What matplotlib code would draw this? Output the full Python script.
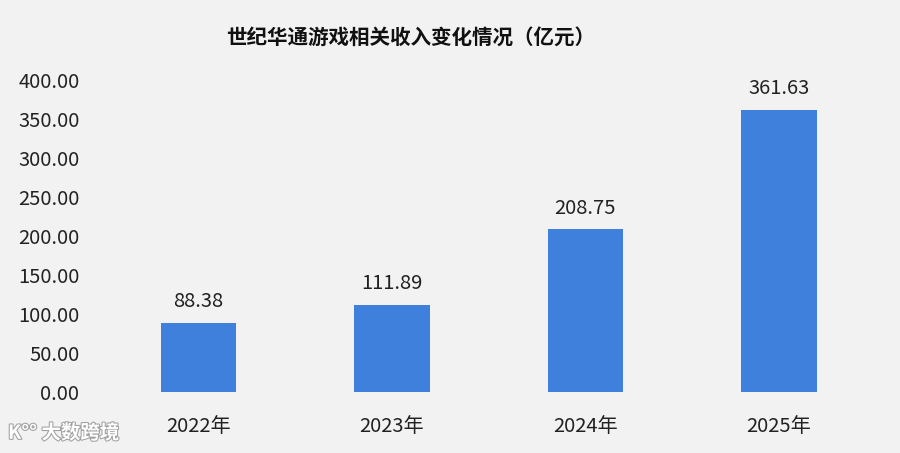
import numpy as np
import matplotlib
matplotlib.use("Agg")
import matplotlib.pyplot as plt
import matplotlib.patheffects as pe

plt.rcParams['font.family'] = ['Noto Sans CJK SC', 'DejaVu Sans']

# data
years = ['2022年', '2023年', '2024年', '2025年']
revenue = [88.38, 111.89, 208.75, 361.63]
yticks = [0, 50, 100, 150, 200, 250, 300, 350, 400]

bg = '#F2F2F2'
bar_color = '#4080DD'
text_color = '#222222'

fig = plt.figure(figsize=(9, 4.53), dpi=100, facecolor=bg)
ax = fig.add_axes([0.113, 0.1347, 0.86, 0.6887], facecolor=bg)

x = np.arange(len(years))
bars = ax.bar(x, revenue, width=0.39, color=bar_color)

for xi, v in zip(x, revenue):
    ax.text(xi, v + 27, f'{v:.2f}', ha='center', va='center',
            fontsize=14.5, color=text_color)

ax.set_xlim(-0.5, len(years) - 0.5)
ax.set_ylim(0, 400)
ax.set_yticks(yticks)
ax.set_yticklabels([f'{t:.2f}' for t in yticks], fontsize=14.5, color=text_color)
ax.set_xticks(x)
ax.set_xticklabels(years, fontsize=14.5, color=text_color)
ax.tick_params(axis='y', length=0, pad=16)
ax.tick_params(axis='x', length=0, pad=17)
for s in ax.spines.values():
    s.set_visible(False)

fig.text(411 / 900, 1 - 37 / 453, '世纪华通游戏相关收入变化情况（亿元）',
         ha='center', va='center', fontsize=14.8, fontweight='bold', color='#111111')

# watermark
fig.text(8 / 900, 1 - 433 / 453, 'K°° 大数跨境', ha='left', va='center',
         fontsize=14, color='white', fontweight='bold',
         path_effects=[pe.withStroke(linewidth=1.5, foreground='#A0A0A0')])

fig.savefig('out.png', dpi=100, facecolor=bg)
